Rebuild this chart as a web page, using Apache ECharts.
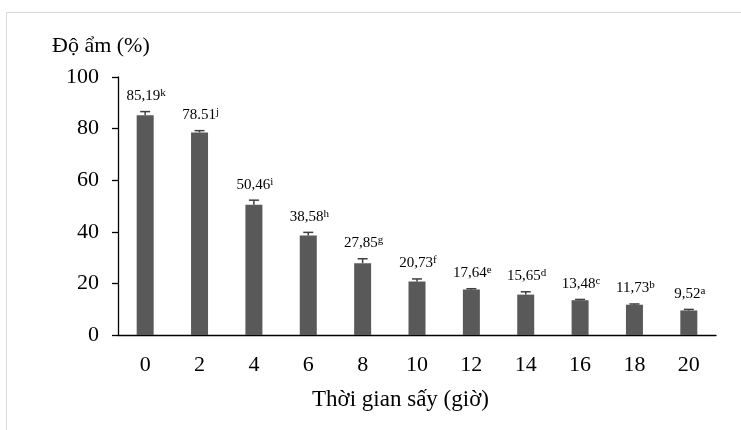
<!DOCTYPE html>
<html>
<head>
<meta charset="utf-8">
<script src="https://cdn.jsdelivr.net/npm/echarts@6/dist/echarts.min.js"></script>
<style>html,body{margin:0;padding:0;background:#fff;}#c{width:741px;height:430px;}</style>
</head>
<body>
<div id="c"></div>
<script>
const categories = ['0','2','4','6','8','10','12','14','16','18','20'];
const moisture = [85.19, 78.51, 50.46, 38.58, 27.85, 20.73, 17.64, 15.65, 13.48, 11.73, 9.52];
const errors = [1.4, 0.7, 1.8, 1.2, 1.7, 1.0, 0.3, 1.1, 0.3, 0.3, 0.4];
const labelTexts = ['85,19','78.51','50,46','38,58','27,85','20,73','17,64','15,65','13,48','11,73','9,52'];
const letters = ['k','j','i','h','g','f','e','d','c','b','a'];
const yTicks = [0, 20, 40, 60, 80, 100];

const FONT = '"Liberation Serif", "Times New Roman", serif';
const chart = echarts.init(document.getElementById('c'));
const errData = categories.map((c, i) => [i, moisture[i], errors[i], labelTexts[i], letters[i]]);

chart.setOption({
  animation: false,
  backgroundColor: '#fff',
  grid: { left: 118, right: 25, top: 77, bottom: 95 },
  xAxis: {
    type: 'category',
    data: categories,
    axisLine: { lineStyle: { color: '#000', width: 1.3 } },
    axisTick: { show: false },
    axisLabel: { color: '#000', fontSize: 22, fontFamily: FONT, margin: 19 }
  },
  yAxis: {
    type: 'value',
    min: yTicks[0], max: yTicks[yTicks.length - 1], interval: 20,
    axisLine: { show: true, lineStyle: { color: '#000', width: 1.3 } },
    axisTick: { show: true, length: 6, lineStyle: { color: '#000', width: 1.3 } },
    splitLine: { show: false },
    axisLabel: { color: '#000', fontSize: 22, fontFamily: FONT, margin: 19 }
  },
  graphic: [
    { type: 'rect', shape: { x: 6.5, y: 12.5, width: 900, height: 600 }, style: { fill: 'none', stroke: '#d9d9d9', lineWidth: 1 }, silent: true },
    { type: 'text', left: 52, top: 35, style: { text: 'Độ ẩm (%)', font: '22px ' + FONT, fill: '#000' } },
    { type: 'text', left: 312, top: 388, style: { text: 'Thời gian sấy (giờ)', font: '23px ' + FONT, fill: '#000' } }
  ],
  series: [
    {
      type: 'bar',
      data: moisture,
      barWidth: 17,
      itemStyle: { color: '#595959' }
    },
    {
      type: 'custom',
      data: errData,
      z: 5,
      renderItem: function (params, api) {
        const idx = api.value(0);
        const v = api.value(1);
        const e = api.value(2);
        const base = api.coord([idx, v]);
        const top = api.coord([idx, v + e]);
        const x = base[0];
        const d = errData[params.dataIndex];
        return {
          type: 'group',
          children: [
            { type: 'line', shape: { x1: x, y1: base[1], x2: x, y2: top[1] }, style: { stroke: '#3f3f3f', lineWidth: 1.5 } },
            { type: 'line', shape: { x1: x - 5, y1: top[1], x2: x + 5, y2: top[1] }, style: { stroke: '#3f3f3f', lineWidth: 1.5 } },
            { type: 'text', style: {
                x: x + 1, y: top[1] - 8,
                text: '{v|' + d[3] + '}{s|' + d[4] + '}',
                align: 'center', verticalAlign: 'bottom',
                rich: {
                  v: { fontSize: 15, fontFamily: FONT, fill: '#000', lineHeight: 16, verticalAlign: 'bottom' },
                  s: { fontSize: 11, fontFamily: FONT, fill: '#000', lineHeight: 16, verticalAlign: 'top' }
                }
            } }
          ]
        };
      }
    }
  ]
});
</script>
</body>
</html>
